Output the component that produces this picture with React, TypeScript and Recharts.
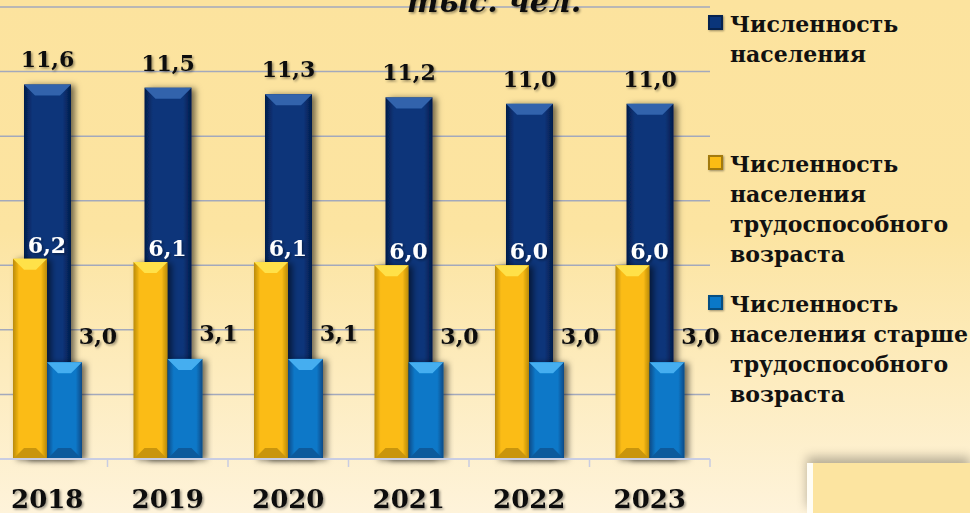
import React from 'react';
import {
  BarChart, Bar, XAxis, YAxis, CartesianGrid, Legend, LabelList,
} from 'recharts';

const years = ['2018', '2019', '2020', '2021', '2022', '2023'];
const totalPopulation = [11.6, 11.5, 11.3, 11.2, 11.0, 11.0];
const workingAge = [6.2, 6.1, 6.1, 6.0, 6.0, 6.0];
const aboveWorkingAge = [3.0, 3.1, 3.1, 3.0, 3.0, 3.0];
const seriesNames = [
  'Численность населения',
  'Численность населения трудоспособного возраста',
  'Численность населения старше трудоспособного возраста',
];
const yTicks = [0, 2, 4, 6, 8, 10, 12, 14];

const data = years.map((year, i) => ({
  year,
  total: totalPopulation[i],
  working: workingAge[i],
  older: aboveWorkingAge[i],
}));

const FONT = "'DejaVu Serif', serif";
const PLOT_W = 723;
const BAND = PLOT_W / years.length;

const palettes = {
  dark: { id: 'darkBody', base: '#0A357A', edge: '#041C4A', top: '#3263AC', bottom: '#06245A' },
  gold: { id: 'goldBody', base: '#FBBC14', edge: '#B98A08', top: '#FFE148', bottom: '#C99510' },
  blue: { id: 'blueBody', base: '#0A78C8', edge: '#074A86', top: '#45AEF0', bottom: '#075A9C' },
};

const fmt = (v: any) => Number(v).toFixed(1).replace('.', ',');

function BevelBar(props: any) {
  const { x, y, width, height, palette } = props;
  if (!height || height <= 0) return null;
  const b = Math.min(11, width / 3, height / 2);
  return (
    <g filter="url(#barShadow)">
      <rect x={x} y={y} width={width} height={height} fill={`url(#${palette.id})`} />
      <polygon
        points={`${x},${y} ${x + width},${y} ${x + width - b},${y + b} ${x + b},${y + b}`}
        fill={palette.top}
      />
      <polygon
        points={`${x},${y + height} ${x + b},${y + height - b} ${x + width - b},${y + height - b} ${x + width},${y + height}`}
        fill={palette.bottom}
      />
    </g>
  );
}

const labelStyle = { fontFamily: FONT, fontWeight: 'bold', fontSize: 22 } as const;

function TotalLabel(props: any) {
  const x = Number(props.x), y = Number(props.y), w = Number(props.width);
  return (
    <text x={x + w / 2} y={y - 17} textAnchor="middle" fill="#111" filter="url(#textShadow)" style={labelStyle}>
      {fmt(props.value)}
    </text>
  );
}

function WorkingLabel(props: any) {
  const x = Number(props.x), y = Number(props.y), w = Number(props.width);
  return (
    <text x={x + w} y={y - 6} textAnchor="middle" fill="#fff" filter="url(#textShadow)" style={labelStyle}>
      {fmt(props.value)}
    </text>
  );
}

function OlderLabel(props: any) {
  const x = Number(props.x), y = Number(props.y), w = Number(props.width);
  return (
    <text x={x + w + 16} y={y - 18} textAnchor="middle" fill="#111" filter="url(#textShadow)" style={labelStyle}>
      {fmt(props.value)}
    </text>
  );
}

function YearTick(props: any) {
  const { x, y, payload, index } = props;
  return (
    <g>
      {index === 0 && <line x1={x - BAND / 2} x2={x - BAND / 2} y1={y} y2={y + 8} stroke="#C9CDE2" strokeWidth={1.5} />}
      <line x1={x + BAND / 2} x2={x + BAND / 2} y1={y} y2={y + 8} stroke="#C9CDE2" strokeWidth={1.5} />
      <text
        x={x}
        y={y + 49}
        textAnchor="middle"
        fill="#111"
        filter="url(#textShadow)"
        style={{ fontFamily: FONT, fontWeight: 'bold', fontSize: 26 }}
      >
        {payload.value}
      </text>
    </g>
  );
}

function LegendBox({ payload }: any) {
  // keep series order, not alphabetical
  const items = [...(payload ?? [])].sort(
    (a: any, b: any) => seriesNames.indexOf(a.value) - seriesNames.indexOf(b.value),
  );
  return (
    <div style={{ fontFamily: FONT, fontWeight: 'bold', fontSize: 22, lineHeight: '30px', color: '#111' }}>
      {items.map((entry: any, i: number) => (
        <div key={i} style={{ position: 'relative', height: 140, paddingLeft: 22 }}>
          <span
            style={{
              position: 'absolute', left: 0, top: 6, width: 15, height: 15,
              background: entry.color,
              boxShadow: 'inset 0 0 0 2px rgba(0,0,0,0.35), 1px 1px 2px rgba(0,0,0,0.4)',
            }}
          />
          <div style={{ width: 240 }}>{entry.value}</div>
        </div>
      ))}
    </div>
  );
}

export default function App() {
  return (
    <div
      style={{
        position: 'absolute', left: 0, top: 0, width: 970, height: 513, overflow: 'hidden',
        background: 'linear-gradient(to bottom, #FCE39E 0%, #FCE4A1 45%, #FEF3DA 100%)',
      }}
    >
      <div style={{ position: 'absolute', left: -13, top: 0 }}>
        <BarChart width={985} height={513} data={data} barGap={0} margin={{ top: 7, right: 0, bottom: 0, left: 0 }}>
          <defs>
            {Object.values(palettes).map(p => (
              <linearGradient key={p.id} id={p.id} x1="0" y1="0" x2="1" y2="0">
                <stop offset="0%" stopColor={p.edge} />
                <stop offset="18%" stopColor={p.base} />
                <stop offset="82%" stopColor={p.base} />
                <stop offset="100%" stopColor={p.edge} />
              </linearGradient>
            ))}
            <filter id="barShadow" x="-30%" y="-10%" width="160%" height="120%">
              <feDropShadow dx="4" dy="1" stdDeviation="3" floodColor="#000" floodOpacity="0.55" />
            </filter>
            <filter id="textShadow" x="-20%" y="-20%" width="140%" height="150%">
              <feDropShadow dx="1.5" dy="1.5" stdDeviation="1.2" floodColor="#000" floodOpacity="0.4" />
            </filter>
          </defs>
          <CartesianGrid vertical={false} stroke="#A3A9BC" strokeWidth={1.5} />
          <XAxis
            dataKey="year"
            height={54}
            tickLine={false}
            tickSize={0}
            tickMargin={0}
            axisLine={{ stroke: '#C9CDE2', strokeWidth: 2 }}
            tick={<YearTick />}
            interval={0}
          />
          <XAxis xAxisId="front" dataKey="year" hide />
          <YAxis hide domain={[0, 14]} ticks={yTicks} />
          <Legend
            layout="vertical"
            align="right"
            verticalAlign="top"
            content={<LegendBox />}
            wrapperStyle={{ left: 721, top: 9, width: 262 }}
          />
          <Bar
            dataKey="total"
            name={seriesNames[0]}
            fill={palettes.dark.base}
            barSize={47}
            isAnimationActive={false}
            shape={(p: any) => <BevelBar {...p} palette={palettes.dark} />}
          >
            <LabelList dataKey="total" content={<TotalLabel />} />
          </Bar>
          <Bar
            dataKey="working"
            xAxisId="front"
            name={seriesNames[1]}
            fill={palettes.gold.base}
            barSize={34}
            isAnimationActive={false}
            shape={(p: any) => <BevelBar {...p} palette={palettes.gold} />}
          >
            <LabelList dataKey="working" content={<WorkingLabel />} />
          </Bar>
          <Bar
            dataKey="older"
            xAxisId="front"
            name={seriesNames[2]}
            fill={palettes.blue.base}
            barSize={35}
            isAnimationActive={false}
            shape={(p: any) => <BevelBar {...p} palette={palettes.blue} />}
          >
            <LabelList dataKey="older" content={<OlderLabel />} />
          </Bar>
        </BarChart>
      </div>
      <svg width={970} height={40} style={{ position: 'absolute', left: 0, top: 0 }}>
        <text
          x={494}
          y={12}
          textAnchor="middle"
          fill="#111"
          filter="url(#textShadow)"
          style={{ fontFamily: FONT, fontWeight: 'bold', fontStyle: 'italic', fontSize: 30 }}
        >
          тыс. чел.
        </text>
      </svg>
      <div
        style={{
          position: 'absolute', left: 807, top: 463, width: 163, height: 50,
          background: '#FCE4A0',
          borderLeft: '6px solid #FFFDF5',
          boxShadow: '0 -6px 10px rgba(0,0,0,0.28)',
          boxSizing: 'border-box',
        }}
      />
    </div>
  );
}
